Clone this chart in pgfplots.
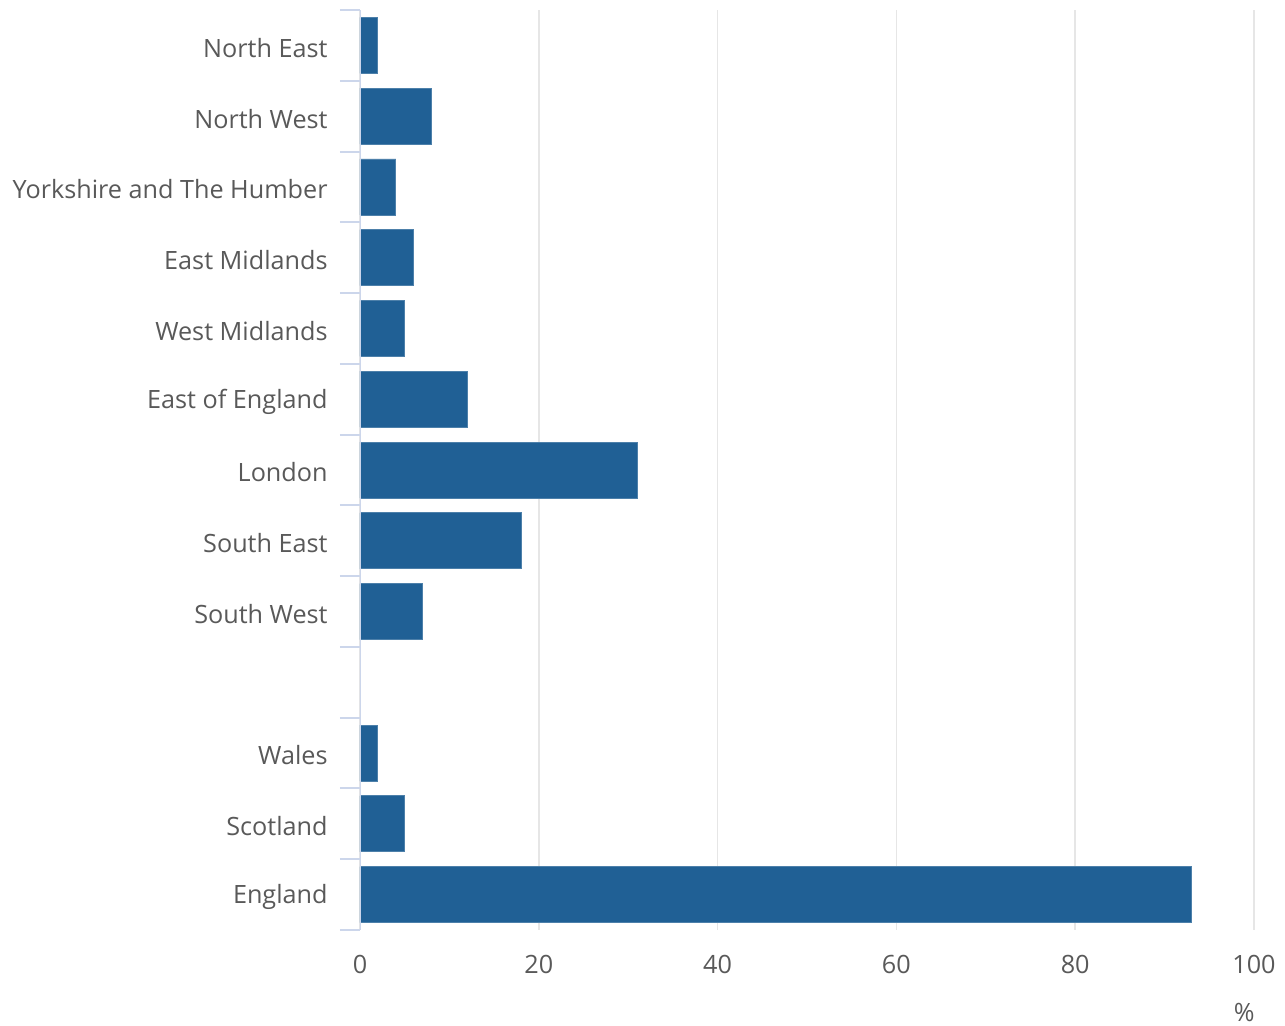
\documentclass[border=0pt]{standalone}
\usepackage{pgfplots}
\pgfplotsset{compat=1.18}
\usepackage{fontspec}
\setmainfont{Open Sans}
\definecolor{barblue}{HTML}{206095}
\definecolor{txtgray}{HTML}{595959}
\definecolor{axisblue}{HTML}{CCD6EB}
\definecolor{gridgray}{HTML}{E6E6E6}
\begin{document}
\begin{tikzpicture}
\useasboundingbox (-180pt,-47.5pt) rectangle (462.5pt,465pt);
\begin{axis}[
  scale only axis,
  width=447pt, height=460pt,
  xbar,
  bar width=28pt,
  xmin=0, xmax=100,
  ymin=-0.5, ymax=12.5,
  y dir=reverse,
  axis line style={draw=none},
  xtick={0,20,40,60,80,100},
  xmajorgrids,
  grid style={gridgray, line width=0.75pt},
  xtick style={draw=none},
  ytick={0,1,2,3,4,5,6,7,8,9,10,11,12},
  yticklabels={North East, North West, Yorkshire and The Humber, East Midlands, West Midlands, East of England, London, South East, South West, {}, Wales, Scotland, England},
  ytick style={draw=axisblue, line width=1pt},
  ytick pos=left,
  major tick length=0pt,
  extra y ticks={-0.5,0.5,1.5,2.5,3.5,4.5,5.5,6.5,7.5,8.5,9.5,10.5,11.5,12.5},
  extra y tick labels={},
  extra y tick style={major tick length=10pt, tick align=outside, grid=none},
  tick label style={font=\fontsize{12.6pt}{15pt}\selectfont, text=txtgray},
  /pgf/number format/assume math mode=true,
  yticklabel style={inner xsep=0pt, xshift=-16pt, yshift=-1.2pt},
  xticklabel style={inner ysep=0pt, yshift=-12.5pt},
  xlabel={\%},
  xlabel style={at={(axis description cs:0.989,0)}, anchor=center, yshift=-41pt, font=\fontsize{12.6pt}{15pt}\selectfont, text=txtgray},
]
\addplot[fill=barblue, draw=barblue!80!white, line width=0.4pt] coordinates {
  (2,0) (8,1) (4,2) (6,3) (5,4) (12,5) (31,6) (18,7) (7,8) (2,10) (5,11) (93,12)
};
\draw[axisblue, line width=1pt] (rel axis cs:0,0) -- (rel axis cs:0,1);
\end{axis}
\end{tikzpicture}
\end{document}
